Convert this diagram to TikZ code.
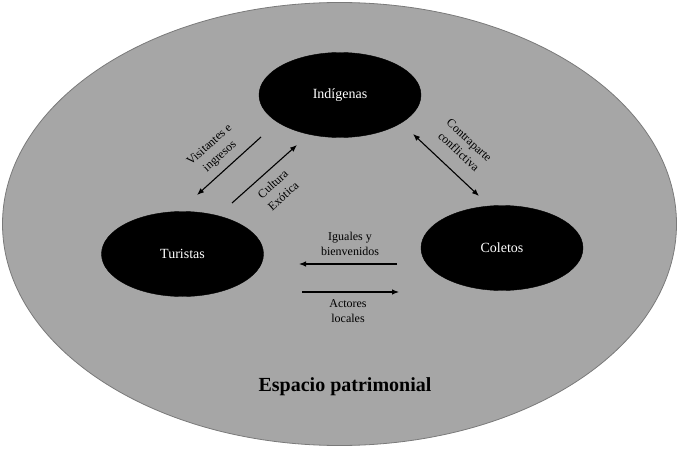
\documentclass[tikz,border=0pt]{standalone}
\usepackage{fontspec}
\setmainfont{Liberation Serif}
\usetikzlibrary{arrows.meta,shapes.geometric}
\definecolor{bggray}{HTML}{A6A6A6}
\definecolor{edgegray}{HTML}{7A7A7A}
\tikzset{
  actor/.style={ellipse, fill=black, draw=black, text=white, minimum width=162pt, minimum height=85pt, inner sep=0pt, font=\fontsize{14}{16}\selectfont},
  rel/.style={line width=1.1pt, -{Latex[length=7pt,width=5.5pt]}},
  birel/.style={line width=1.1pt, {Latex[length=7pt,width=5.5pt]}-{Latex[length=7pt,width=5.5pt]}},
  lab/.style={align=center, font=\fontsize{12}{15.5}\selectfont, inner sep=0pt}
}
\begin{document}
\begin{tikzpicture}[x=1pt,y=1pt]
\useasboundingbox (0,0) rectangle (679,448);
\node[ellipse, fill=bggray, draw=edgegray, line width=0.8pt, minimum width=674pt, minimum height=443pt, inner sep=0pt] (space) at (339.5,224) {};
\node[actor] (ind) at (340,353) {Indígenas};
\node[actor] (tur) at (182.5,194) {Turistas};
\node[actor] (col) at (502,200) {Coletos};
\coordinate (a1s) at (261,311);
\coordinate (a1e) at (197,253);
\coordinate (a2s) at (232,245);
\coordinate (a2e) at (297,303);
\coordinate (a3s) at (413,314);
\coordinate (a3e) at (479,252);
\coordinate (a4s) at (397,184);
\coordinate (a4e) at (299,184);
\coordinate (a5s) at (302,156);
\coordinate (a5e) at (399,156);
\draw[rel] (a1s) -- (a1e);
\draw[rel] (a2s) -- (a2e);
\draw[birel] (a3s) -- (a3e);
\draw[rel] (a4s) -- (a4e);
\draw[rel] (a5s) -- (a5e);
\node[lab, rotate=42] (l1) at (215,297) {Visitantes e\\ingresos};
\node[lab, rotate=42] (l2) at (278,258) {Cultura\\Exótica};
\node[lab, rotate=-43] (l3) at (464,302) {Contraparte\\conflictiva};
\node[lab] (l4) at (350,204) {Iguales y\\bienvenidos};
\node[lab] (l5) at (348,137) {Actores\\locales};
\node[font=\fontsize{20}{24}\selectfont\bfseries] (title) at (345,61) {Espacio patrimonial};
\end{tikzpicture}
\end{document}
